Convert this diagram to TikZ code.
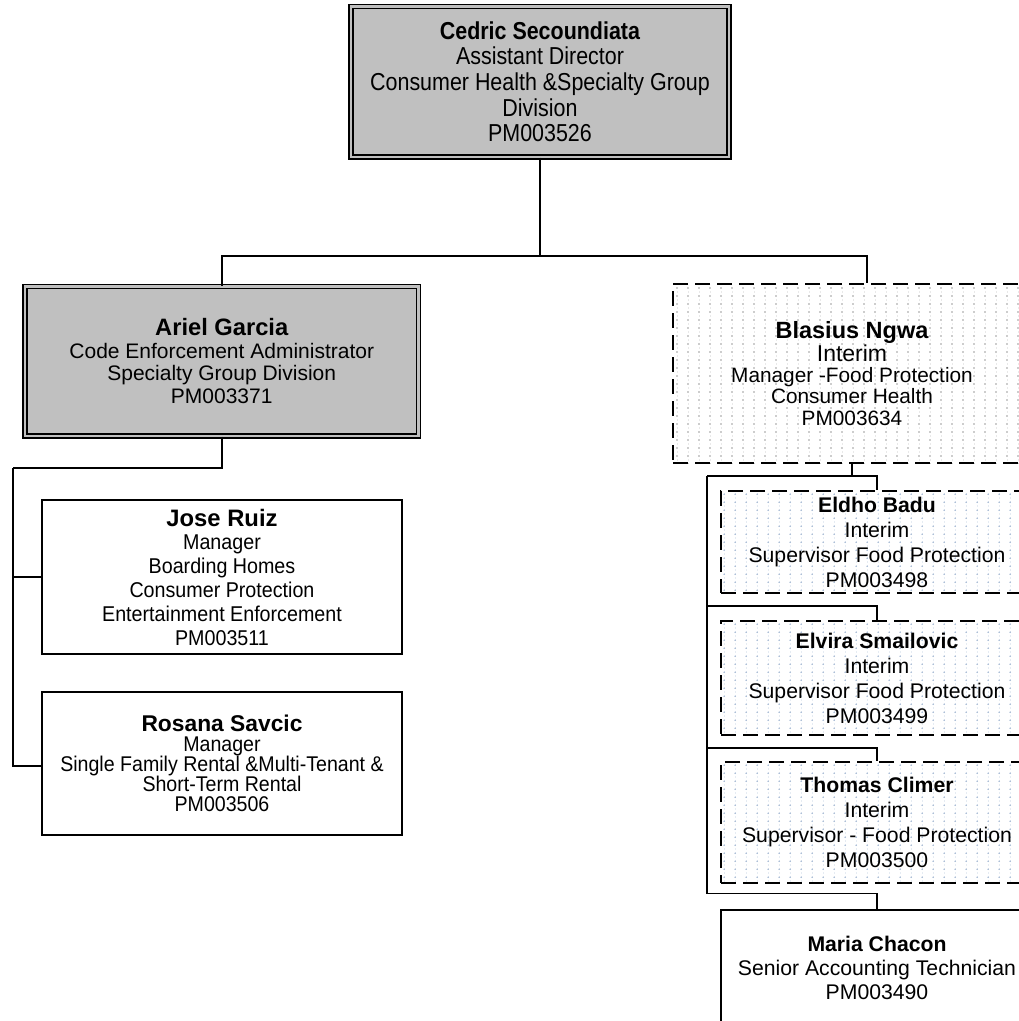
\documentclass[tikz,border=0pt]{standalone}
\usepackage{fontspec}
\setmainfont{Liberation Sans}
\newfontfamily\cedf[FakeStretch=0.875]{Liberation Sans}
\newfontfamily\narf[FakeStretch=0.92]{Liberation Sans}
\usetikzlibrary{backgrounds}
\definecolor{boxgray}{HTML}{C0C0C0}
\definecolor{dotgray}{HTML}{9A9A9A}
\definecolor{dotblue}{HTML}{8FA8C8}
\newcommand{\bigname}[2]{{\rmfamily\bfseries\fontsize{#1}{#1}\selectfont #2}}
\begin{document}
\begin{tikzpicture}[x=1pt,y=-1pt,
  conn/.style={line width=1.5pt},
  graybox/.style={draw=black, line width=1.3pt, double=boxgray, double distance=2.7pt, fill=boxgray, inner sep=0pt, align=center},
  solidbox/.style={draw=black, line width=1.4pt, fill=white, inner sep=0pt, align=center},
  dashbox/.style={draw=black, line width=1.6pt, dash pattern=on 15pt off 7pt, inner sep=0pt, align=center},
  rfont/.style={font=\fontsize{21.2}{25}\selectfont}
]
\useasboundingbox (0,0) rectangle (1019,1021);
\clip (0,0) rectangle (1019,1021);

% top
\node[graybox, minimum width=378pt, minimum height=150.5pt,
      font=\cedf\fontsize{24.5}{25.7}\selectfont] (ced) at (540,81.75)
  {\textbf{Cedric Secoundiata}\\Assistant Director\\Consumer Health \&Specialty Group\\Division\\PM003526};

% left branch
\node[graybox, minimum width=393.5pt, minimum height=149.5pt,
      font=\fontsize{21}{22.5}\selectfont] (ariel) at (221.75,361.25)
  {\bigname{23.7}{Ariel Garcia}\\Code Enforcement Administrator\\Specialty Group Division\\PM003371};

\node[solidbox, minimum width=360pt, minimum height=154pt,
      font=\narf\fontsize{21.4}{23.8}\selectfont] (jose) at (222,577)
  {\bigname{23.8}{Jose Ruiz}\\Manager\\Boarding Homes\\Consumer Protection\\Entertainment Enforcement\\PM003511};

\node[solidbox, minimum width=360pt, minimum height=143pt,
      font=\narf\fontsize{21.3}{20}\selectfont] (rosana) at (222,763.5)
  {\bigname{22.8}{Rosana Savcic}\\Manager\\Single Family Rental \&Multi-Tenant \&\\Short-Term Rental\\PM003506};

% right branch
\node[dashbox, minimum width=358pt, minimum height=179pt,
      font=\fontsize{20.8}{21.2}\selectfont] (blas) at (852,373.5)
  {\bigname{23.5}{Blasius Ngwa}\\{\fontsize{23}{21.2}\selectfont Interim}\\Manager -Food Protection\\Consumer Health\\PM003634};

\node[dashbox, minimum width=312pt, minimum height=102pt, rfont] (eldho) at (877,542)
  {\textbf{Eldho Badu}\\Interim\\Supervisor Food Protection\\PM003498};

\node[dashbox, minimum width=312pt, minimum height=114pt, rfont] (elvira) at (877,678)
  {\textbf{Elvira Smailovic}\\Interim\\Supervisor Food Protection\\PM003499};

\node[dashbox, minimum width=312pt, minimum height=121pt, rfont] (thomas) at (877,822.5)
  {\textbf{Thomas Climer}\\Interim\\Supervisor - Food Protection\\PM003500};

\node[solidbox, minimum width=312pt, minimum height=115pt,
      font=\fontsize{21.2}{24}\selectfont] (maria) at (877,967.5)
  {\textbf{Maria Chacon}\\Senior Accounting Technician\\PM003490};

% dotted fills
\begin{scope}[on background layer]
  \begin{scope}
    \clip (blas.north west) rectangle (blas.south east);
    \foreach \i in {0,...,33}{\foreach \j in {0,...,22}{
      \fill[dotgray] (677+11*\i, 288+8*\j) circle (0.8pt);
      \fill[dotgray!22] (676.7+11*\i, 291+8*\j) rectangle (677.3+11*\i, 293+8*\j);
    }}
  \end{scope}
  \foreach \b in {eldho,elvira,thomas}{
    \begin{scope}
      \clip (\b.north west) rectangle (\b.south east);
      \path (\b.north west) coordinate (o);
      \foreach \i in {0,...,28}{\foreach \j in {0,...,15}{
        \fill[dotblue] ([xshift=4pt+11*\i pt, yshift=-4pt-8*\j pt]o) circle (0.8pt);
        \fill[dotblue!22] ([xshift=3.7pt+11*\i pt, yshift=-7pt-8*\j pt]o) rectangle ([xshift=4.3pt+11*\i pt, yshift=-9pt-8*\j pt]o);
      }}
    \end{scope}
  }
\end{scope}

% connectors
\coordinate (hub) at (540,256);
\draw[conn] (ced.south) -- (hub);
\draw[conn] (hub) -| (ariel.north);
\draw[conn] (hub) -| ([xshift=15pt]blas.north);

\coordinate (lbus) at (13,468);
\draw[conn] (ariel.south) |- (lbus);
\draw[conn] (lbus) |- ([yshift=-2.5pt]rosana.west);
\draw[conn] (lbus |- jose.west) -- (jose.west);

\coordinate (rbus) at (707,476);
\draw[conn] (blas.south) |- (rbus);
\draw[conn] (rbus) -| (eldho.north);
\draw[conn] (rbus) |- ([yshift=14pt]elvira.north) -- (elvira.north);
\draw[conn] (rbus) |- ([yshift=13pt]thomas.north) -- (thomas.north);
\draw[conn] (rbus) |- ([yshift=16pt]maria.north) -- (maria.north);
\end{tikzpicture}
\end{document}
